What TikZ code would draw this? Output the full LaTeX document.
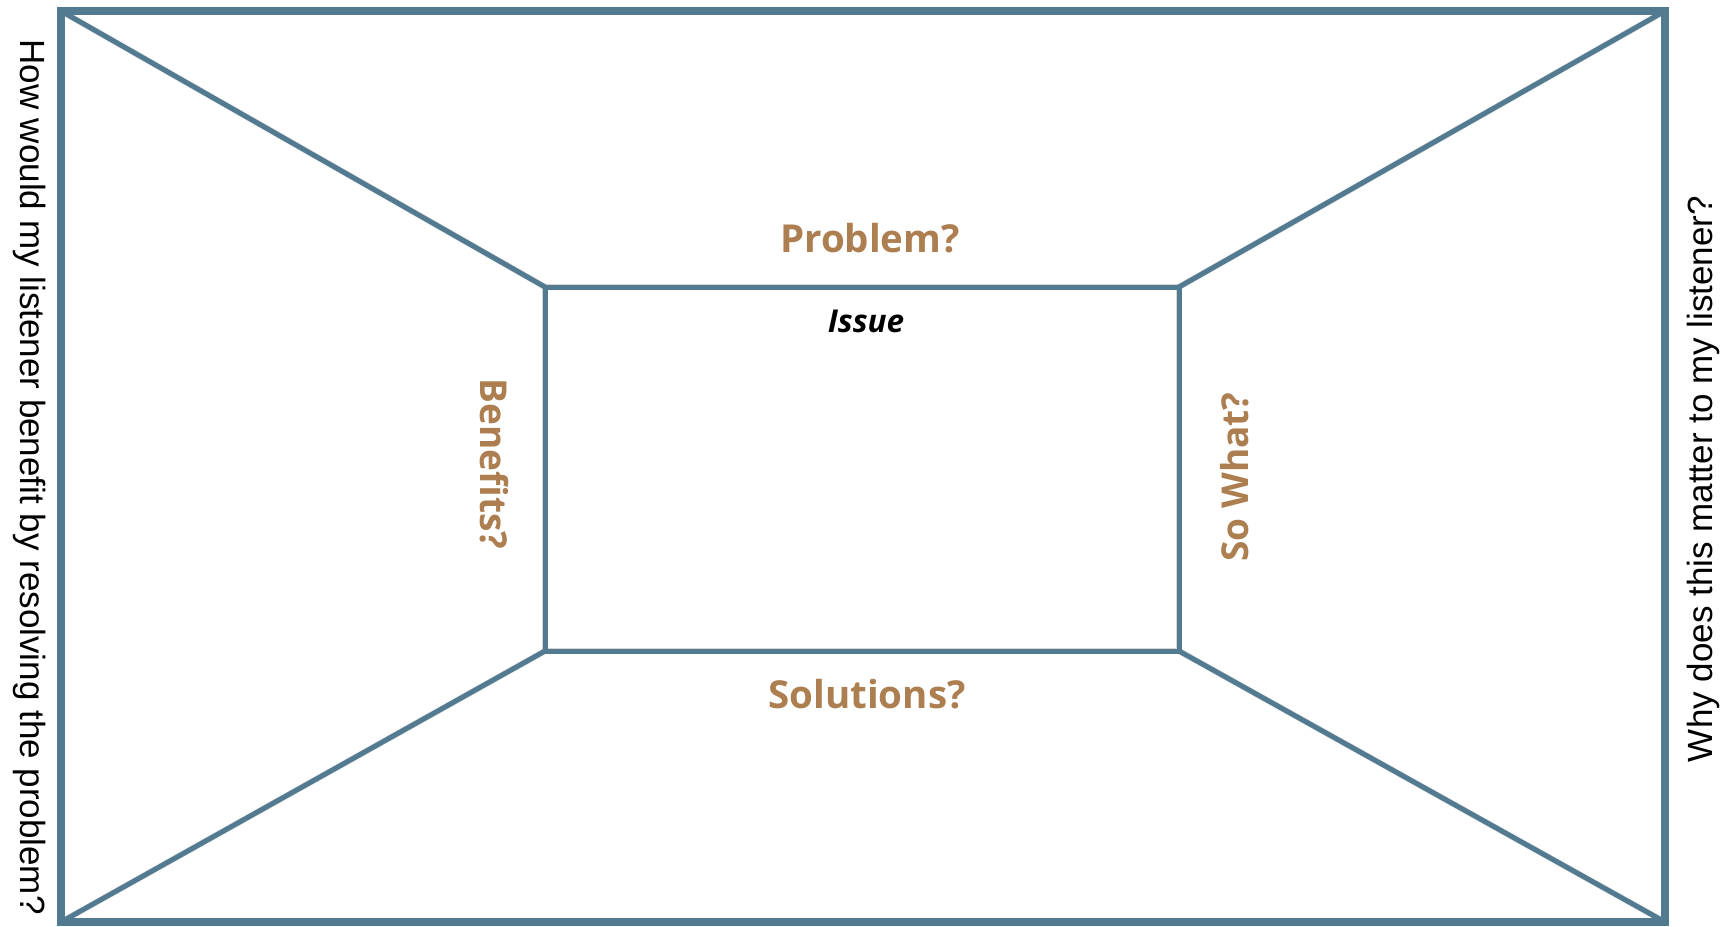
\documentclass[tikz,border=0pt]{standalone}
\usepackage{fontspec}
\setmainfont{Liberation Sans}
\newfontfamily\lblfont{Open Sans}
\newfontfamily\sidefont{Liberation Sans}
\definecolor{frameblue}{RGB}{82,122,145}
\definecolor{labelbrown}{RGB}{172,126,80}
\begin{document}
\begin{tikzpicture}[x=1pt,y=-1pt,
  frame/.style={draw=frameblue,line width=8pt},
  wall/.style={draw=frameblue,line width=5pt,line cap=round},
  shade/.style={draw=black,line width=6pt,opacity=0.16},
  qlabel/.style={text=labelbrown,font=\lblfont\bfseries\fontsize{38.5}{42}\selectfont,inner sep=0pt},
  vlabel/.style={text=labelbrown,font=\lblfont\bfseries\fontsize{37}{40}\selectfont,inner sep=0pt},
  sidetext/.style={text=black,font=\sidefont\fontsize{35}{40}\selectfont,inner sep=0pt}]
\useasboundingbox (0,0) rectangle (1728,926);
\fill[white] (0,0) rectangle (1728,926);
% corners
\coordinate (OTL) at (61,11);
\coordinate (OTR) at (1665,11);
\coordinate (OBL) at (61,922);
\coordinate (OBR) at (1665,922);
\coordinate (ITL) at (545,287);
\coordinate (ITR) at (1179,287);
\coordinate (IBL) at (545,651);
\coordinate (IBR) at (1179,651);
% shadows
\begin{scope}[shift={(2,3)}]
\draw[shade] (OTL) -- (ITL);
\draw[shade] (OTR) -- (ITR);
\draw[shade] (OBL) -- (IBL);
\draw[shade] (OBR) -- (IBR);
\draw[shade] (ITL) rectangle (IBR);
\end{scope}
% walls
\draw[wall] (OTL) -- (ITL);
\draw[wall] (OTR) -- (ITR);
\draw[wall] (OBL) -- (IBL);
\draw[wall] (OBR) -- (IBR);
\draw[wall,line cap=butt,line join=miter] (ITL) rectangle (IBR);
\draw[frame,line join=miter] (OTL) rectangle (OBR);
% labels
\node[qlabel] (problem) at (870,238) {Problem?};
\node[inner sep=0pt,font=\lblfont\bfseries\itshape\fontsize{31.5}{34}\selectfont] (issue) at (866,321) {Issue};
\node[qlabel] (solutions) at (867,694) {Solutions?};
\node[vlabel,rotate=-90] (benefits) at (494,464) {Benefits?};
\node[vlabel,rotate=90] (sowhat) at (1235,477) {So What?};
\node[sidetext,rotate=-90] (lefttext) at (30,477) {How would my listener benefit by resolving the problem?};
\node[sidetext,rotate=90] (righttext) at (1703,479) {Why does this matter to my listener?};
\end{tikzpicture}
\end{document}
